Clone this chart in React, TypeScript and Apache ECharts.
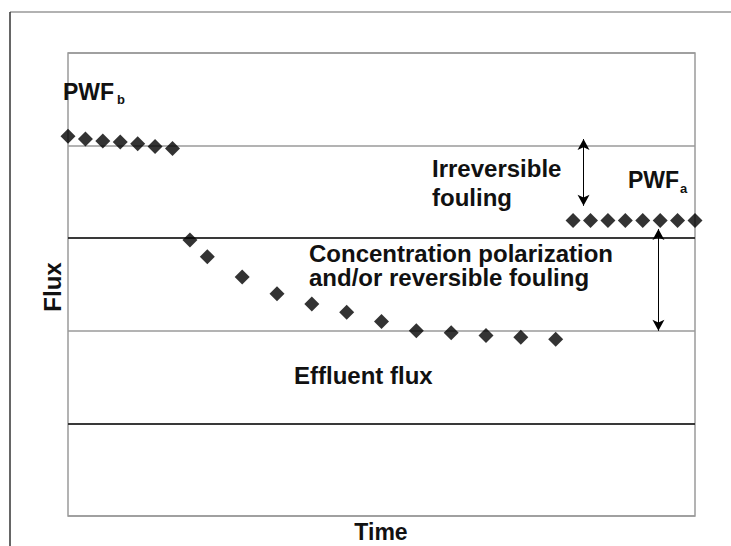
import React, { useEffect, useRef } from "react";
import * as echarts from "echarts";

// Data (x in time steps, y in flux units)
const timeBefore = [0, 1, 2, 3, 4, 5, 6];
const fluxBefore = [4.1, 4.07, 4.05, 4.04, 4.02, 3.99, 3.97];
const timeDecline = [7, 8, 10, 12, 14, 16, 18, 20, 22, 24, 26, 28];
const fluxDecline = [2.98, 2.8, 2.58, 2.4, 2.29, 2.2, 2.1, 2.0, 1.98, 1.95, 1.93, 1.91];
const timeAfter = [29, 30, 31, 32, 33, 34, 35, 36];
const fluxAfter = [3.19, 3.19, 3.19, 3.19, 3.19, 3.19, 3.19, 3.19];
const darkLevels = [1, 3];
const arrowIrreversible = [[29.6, 4.07], [29.6, 3.35]];
const arrowReversible = [[33.9, 3.1], [33.9, 2.0]];

const FONT = "'Liberation Sans', Arial, sans-serif";

export default function App() {
  const ref = useRef<HTMLDivElement>(null);
  useEffect(() => {
    if (!ref.current) return;
    const chart = echarts.init(ref.current, undefined, { renderer: "svg" });
    const pts = (xs: number[], ys: number[]) => xs.map((x, i) => [x, ys[i]]);
    const allPoints = [
      ...pts(timeBefore, fluxBefore),
      ...pts(timeDecline, fluxDecline),
      ...pts(timeAfter, fluxAfter),
    ];
    const txt = (text: string, x: number, y: number, size = 24, extra: any = {}) => ({
      type: "text",
      x,
      y,
      silent: true,
      style: {
        text,
        fill: "#111",
        font: `bold ${size}px ${FONT}`,
        verticalAlign: "middle",
        align: "left",
        ...extra,
      },
    });
    chart.setOption({
      animation: false,
      backgroundColor: "#fff",
      grid: {
        left: 68,
        right: 36,
        top: 53,
        bottom: 30,
        show: true,
        borderColor: "#9a9a9a",
        borderWidth: 1.5,
        backgroundColor: "transparent",
      },
      xAxis: {
        type: "value",
        min: 0,
        max: 36,
        axisLine: { show: false },
        axisTick: { show: false },
        axisLabel: { show: false },
        splitLine: { show: false },
      },
      yAxis: {
        type: "value",
        min: 0,
        max: 5,
        interval: 1,
        axisLine: { show: false },
        axisTick: { show: false },
        axisLabel: { show: false },
        splitLine: { show: true, lineStyle: { color: "#9a9a9a", width: 1.5 } },
      },
      series: [
        {
          type: "scatter",
          data: allPoints,
          symbol: "diamond",
          symbolSize: [15, 15],
          itemStyle: { color: "#000" },
          clip: false,
          z: 5,
          markLine: {
            silent: true,
            symbol: ["none", "none"],
            label: { show: false },
            lineStyle: { color: "#111", width: 1.5, type: "solid" },
            data: darkLevels.map((v) => ({ yAxis: v })),
          },
        },
        {
          type: "line",
          data: [],
          markLine: {
            silent: true,
            symbol: ["arrow", "arrow"],
            symbolSize: [9, 11],
            label: { show: false },
            lineStyle: { color: "#000", width: 1, type: "solid" },
            data: [
              [{ coord: arrowIrreversible[0] }, { coord: arrowIrreversible[1] }],
              [{ coord: arrowReversible[0] }, { coord: arrowReversible[1] }],
            ],
          },
        },
      ],
      graphic: [
        {
          type: "line",
          silent: true,
          shape: { x1: 10, y1: 12, x2: 731, y2: 12 },
          style: { stroke: "#999", lineWidth: 1.5 },
        },
        {
          type: "line",
          silent: true,
          shape: { x1: 10, y1: 12, x2: 10, y2: 546 },
          style: { stroke: "#333", lineWidth: 1.5 },
        },
        txt("PWF", 63, 92, 23),
        txt("b", 117, 99.5, 13),
        txt("PWF", 628, 180, 23),
        txt("a", 680, 188, 13),
        txt("Irreversible\nfouling", 432, 182.75, 24, { lineHeight: 28.5 }),
        txt("Concentration polarization\nand/or reversible fouling", 309, 265.25, 24, {
          lineHeight: 24.5,
        }),
        txt("Effluent flux", 294, 375.5),
        txt("Time", 381, 532, 23, { align: "center" }),
        {
          type: "text",
          x: 52,
          y: 287,
          rotation: Math.PI / 2,
          silent: true,
          style: {
            text: "Flux",
            fill: "#111",
            font: `bold 24px ${FONT}`,
            align: "center",
            verticalAlign: "middle",
          },
        },
      ],
    });
    return () => chart.dispose();
  }, []);
  return (
    <div
      ref={ref}
      style={{ position: "fixed", left: 0, top: 0, width: 731, height: 546 }}
    />
  );
}
